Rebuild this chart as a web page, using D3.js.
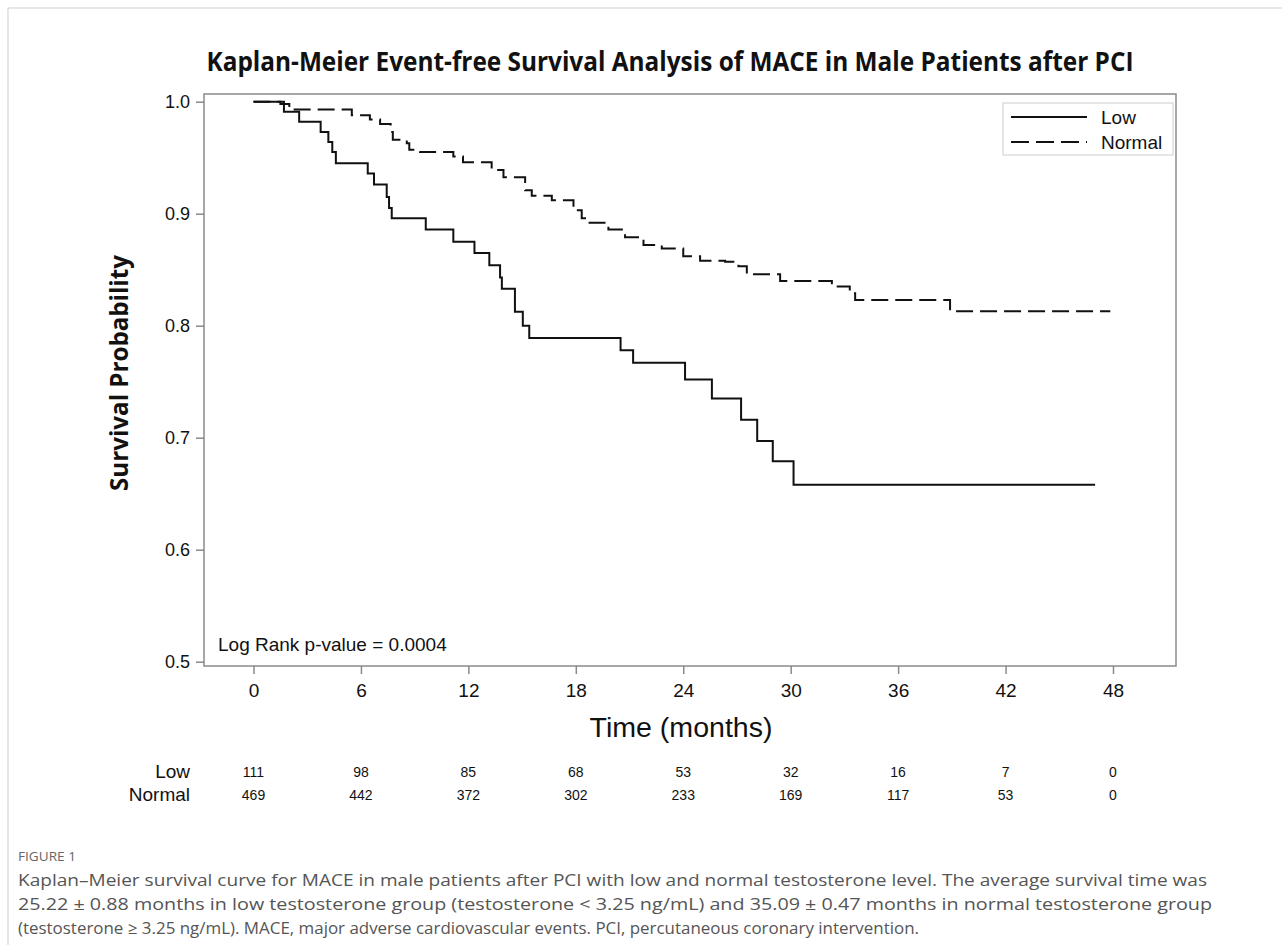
<!DOCTYPE html>
<html>
<head>
<meta charset="utf-8">
<script src="https://cdn.jsdelivr.net/npm/d3@7"></script>
<style>
  body { margin: 0; background: #fff; }
  svg { display: block; }
</style>
</head>
<body>
<div id="chart"></div>
<script>
// Kaplan-Meier step data (time in months, survival prob)
var lowTimes = [0, 1.7, 2.55, 3.75, 4.18, 4.4, 4.6, 6.38, 6.73, 7.44, 7.57, 7.72, 9.62, 11.16, 12.34, 13.17, 13.77, 13.87, 14.6, 15.04, 15.4, 20.5, 21.2, 24.1, 25.6, 27.23, 28.13, 29.0, 30.16, 47.0];
var lowSurv = [1, 0.991, 0.982, 0.973, 0.964, 0.955, 0.945, 0.936, 0.926, 0.915, 0.905, 0.896, 0.886, 0.875, 0.865, 0.854, 0.843, 0.833, 0.8125, 0.800, 0.789, 0.778, 0.767, 0.752, 0.735, 0.716, 0.697, 0.679, 0.658, 0.658];

var normalTimes = [0, 1.5, 2.0, 5.49, 6.5, 7.07, 7.66, 7.78, 8.56, 8.7, 9.3, 11.16, 11.7, 13.3, 13.96, 15.17, 15.54, 16.66, 17.87, 18.33, 18.6, 19.82, 20.75, 21.78, 22.8, 24.0, 24.94, 26.34, 27.08, 27.55, 29.41, 32.3, 33.3, 33.6, 38.9, 47.85];
var normalSurv = [1, 0.998, 0.993, 0.988, 0.984, 0.980, 0.973, 0.966, 0.963, 0.957, 0.955, 0.951, 0.946, 0.939, 0.9325, 0.921, 0.916, 0.912, 0.903, 0.896, 0.892, 0.886, 0.879, 0.872, 0.869, 0.862, 0.858, 0.857, 0.853, 0.846, 0.840, 0.835, 0.829, 0.823, 0.813, 0.813];

var xTicks = [0, 6, 12, 18, 24, 30, 36, 42, 48];
var yTicks = [0.5, 0.6, 0.7, 0.8, 0.9, 1.0];

var riskLow = [111, 98, 85, 68, 53, 32, 16, 7, 0];
var riskNormal = [469, 442, 372, 302, 233, 169, 117, 53, 0];

var seriesNames = ['Low', 'Normal'];

var titleText = 'Kaplan-Meier Event-free Survival Analysis of MACE in Male Patients after PCI';
var captionLines = [
  'Kaplan\u2013Meier survival curve for MACE in male patients after PCI with low and normal testosterone level. The average survival time was',
  '25.22 \u00b1 0.88 months in low testosterone group (testosterone < 3.25 ng/mL) and 35.09 \u00b1 0.47 months in normal testosterone group',
  '(testosterone \u2265 3.25 ng/mL). MACE, major adverse cardiovascular events. PCI, percutaneous coronary intervention.'
];

var W = 1282, H = 945;
var frame = {left: 204, top: 94, right: 1176, bottom: 666};

var svg = d3.select('#chart').append('svg')
    .attr('width', W).attr('height', H)
    .style('font-family', '"Liberation Sans", Arial, sans-serif');

// outer figure border
svg.append('path')
    .attr('d', 'M8,' + H + 'V8H' + W)
    .attr('fill', 'none').attr('stroke', '#cfcfcf').attr('stroke-width', 1);

var x = d3.scaleLinear().domain([0, 48]).range([253.5, 1113]);
var y = d3.scaleLinear().domain([0.5, 1.0]).range([661.7, 101.7]);

// title
svg.append('text')
    .attr('x', 670).attr('y', 71)
    .attr('text-anchor', 'middle')
    .style('font-family', '"Open Sans", sans-serif')
    .style('font-weight', 'bold').style('font-size', '26px')
    .attr('textLength', 927).attr('lengthAdjust', 'spacingAndGlyphs')
    .attr('fill', '#111')
    .text(titleText);

// plot frame
svg.append('rect')
    .attr('x', frame.left).attr('y', frame.top)
    .attr('width', frame.right - frame.left).attr('height', frame.bottom - frame.top)
    .attr('fill', 'none').attr('stroke', '#8a8a8a').attr('stroke-width', 1.5);

// axes
var xAxis = d3.axisBottom(x).tickValues(xTicks).tickSize(8).tickPadding(6);
var gx = svg.append('g').attr('transform', 'translate(0,' + frame.bottom + ')').call(xAxis);
gx.select('.domain').remove();
gx.selectAll('line').attr('stroke', '#8a8a8a').attr('stroke-width', 1.5);
gx.selectAll('text').attr('fill', '#111').style('font-size', '19px').attr('dy', '0.9em');

var yAxis = d3.axisLeft(y).tickValues(yTicks).tickFormat(d3.format('.1f')).tickSize(8).tickPadding(6);
var gy = svg.append('g').attr('transform', 'translate(' + frame.left + ',0)').call(yAxis);
gy.select('.domain').remove();
gy.selectAll('line').attr('stroke', '#8a8a8a').attr('stroke-width', 1.5);
gy.selectAll('text').attr('fill', '#111').style('font-size', '18px');

// axis labels
svg.append('text')
    .attr('transform', 'translate(128,373) rotate(-90)')
    .attr('text-anchor', 'middle')
    .style('font-family', '"Open Sans", sans-serif')
    .style('font-weight', 'bold').style('font-size', '25px')
    .attr('textLength', 236).attr('lengthAdjust', 'spacingAndGlyphs')
    .attr('fill', '#111')
    .text('Survival Probability');

svg.append('text')
    .attr('x', 681).attr('y', 737)
    .attr('text-anchor', 'middle')
    .style('font-size', '27px')
    .attr('textLength', 183).attr('lengthAdjust', 'spacingAndGlyphs')
    .attr('fill', '#111')
    .text('Time (months)');

// curves
var line = d3.line()
    .x(function(d) { return x(d[0]); })
    .y(function(d) { return y(d[1]); })
    .curve(d3.curveStepAfter);

var lowData = d3.zip(lowTimes, lowSurv);
var normalData = d3.zip(normalTimes, normalSurv);

svg.append('path').datum(normalData)
    .attr('d', line)
    .attr('fill', 'none').attr('stroke', '#111').attr('stroke-width', 2)
    .attr('stroke-dasharray', '17,7');

svg.append('path').datum(lowData)
    .attr('d', line)
    .attr('fill', 'none').attr('stroke', '#111').attr('stroke-width', 2);

// legend
var leg = svg.append('g');
leg.append('rect')
    .attr('x', 1003).attr('y', 103).attr('width', 170).attr('height', 52)
    .attr('fill', '#fff').attr('stroke', '#cccccc').attr('stroke-width', 1);
var legItems = leg.selectAll('g.item').data(seriesNames).enter().append('g').attr('class', 'item')
    .attr('transform', function(d, i) { return 'translate(0,' + (117 + i * 25) + ')'; });
legItems.append('line')
    .attr('x1', 1011).attr('x2', 1087)
    .attr('stroke', '#111').attr('stroke-width', 2)
    .attr('stroke-dasharray', function(d, i) { return i == 1 ? '18,7' : null; });
legItems.append('text')
    .attr('x', 1101).attr('dy', '0.35em')
    .style('font-size', '19px').attr('fill', '#111')
    .text(function(d) { return d; });

// log rank note
svg.append('text')
    .attr('x', 218).attr('y', 651)
    .style('font-size', '19px').attr('fill', '#111')
    .text('Log Rank p-value = 0.0004');

// number at risk table
var riskRows = [riskLow, riskNormal];
riskRows.forEach(function(row, i) {
    var yy = 771 + i * 23;
    svg.append('text')
        .attr('x', 190).attr('y', yy).attr('dy', '0.35em')
        .attr('text-anchor', 'end')
        .style('font-size', '19px').attr('fill', '#111')
        .text(seriesNames[i]);
    svg.selectAll(null).data(row).enter().append('text')
        .attr('x', function(d, j) { return x(xTicks[j]); })
        .attr('y', yy + 1).attr('dy', '0.35em')
        .attr('text-anchor', 'middle')
        .style('font-size', '14px').attr('fill', '#111')
        .text(function(d) { return d; });
});

// caption
svg.append('text')
    .attr('x', 18).attr('y', 861)
    .style('font-family', '"Open Sans", sans-serif')
    .style('font-size', '13px').attr('fill', '#666')
    .attr('textLength', 58).attr('lengthAdjust', 'spacingAndGlyphs')
    .text('FIGURE 1');

var capWidths = [1189, 1194, 901];
svg.selectAll('text.cap').data(captionLines).enter().append('text')
    .attr('class', 'cap')
    .attr('x', 18).attr('y', function(d, i) { return 886 + i * 24; })
    .style('font-family', '"Open Sans", sans-serif')
    .style('font-size', '16.5px').attr('fill', '#555')
    .attr('textLength', function(d, i) { return capWidths[i]; })
    .attr('lengthAdjust', 'spacingAndGlyphs')
    .text(function(d) { return d; });
</script>
</body>
</html>
